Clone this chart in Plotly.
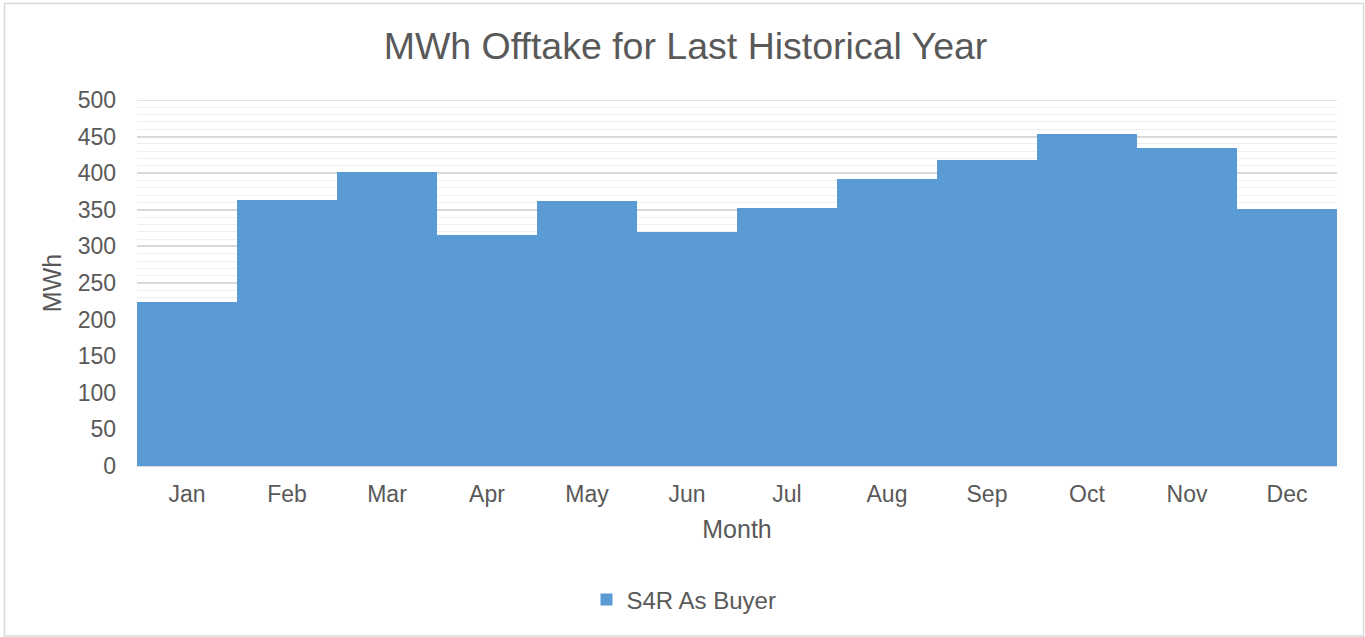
import plotly.graph_objects as go

months = ["Jan", "Feb", "Mar", "Apr", "May", "Jun", "Jul", "Aug", "Sep", "Oct", "Nov", "Dec"]
offtake_mwh = [224, 363, 401, 315, 362, 319, 352, 392, 418, 454, 434, 351]
series_name = "S4R As Buyer"
y_ticks = [0, 50, 100, 150, 200, 250, 300, 350, 400, 450, 500]
y_max = 500

FONT = "Liberation Sans, Arial, sans-serif"
TXT = "#595959"

fig = go.Figure()
fig.add_trace(go.Bar(
    x=months, y=offtake_mwh, name=series_name,
    marker=dict(color="#5B9BD5", line=dict(width=0)),
    showlegend=True,
))

W, H = 1365, 637
L, R, T, B = 137, 28, 100, 171
pw, ph = W - L - R, H - T - B

def px_x(x):
    return (x - L) / pw

def px_y(y):
    return (H - B - y) / ph

fig.update_layout(
    width=W, height=H,
    margin=dict(l=L, r=R, t=T, b=B),
    paper_bgcolor="white", plot_bgcolor="white",
    font=dict(family=FONT, color=TXT, size=23),
    bargap=0,
    title=dict(text="MWh Offtake for Last Historical Year",
               font=dict(size=37.5, color=TXT, family=FONT),
               x=px_x(685.5), xanchor="center", xref="paper",
               y=1 - 46 / H, yanchor="middle", yref="container"),
    xaxis=dict(
        range=[-0.5, 11.5], showgrid=False,
        showline=True, linecolor="#D9D9D9", linewidth=1,
        ticks="", tickfont=dict(size=23, color=TXT),
        ticklabelstandoff=7,
        title=dict(text="Month", font=dict(size=25, color=TXT), standoff=14),
    ),
    yaxis=dict(
        range=[0, y_max], tickvals=y_ticks, ticktext=[str(v) for v in y_ticks],
        showgrid=True, gridcolor="#D9D9D9", gridwidth=1.5,
        zeroline=False, showline=False, ticks="",
        tickfont=dict(size=23, color=TXT),
        ticklabelstandoff=20,
        minor=dict(dtick=10, showgrid=True, gridcolor="#EFEFEF", gridwidth=1.2),
        title=dict(text="MWh", font=dict(size=25, color=TXT), standoff=8),
    ),
    legend=dict(orientation="h", x=px_x(684), xanchor="center",
                y=px_y(600), yanchor="middle",
                font=dict(size=24, color=TXT), bgcolor="rgba(0,0,0,0)"),
    shapes=[
        dict(type="rect", xref="paper", yref="paper",
             x0=px_x(4.5), x1=px_x(1363.5), y0=px_y(636), y1=px_y(3.5),
             line=dict(color="#D9D9D9", width=1.5), fillcolor="rgba(0,0,0,0)",
             layer="below"),
        dict(type="line", xref="paper", yref="y", x0=0, x1=1, y0=y_max, y1=y_max,
             line=dict(color="#D9D9D9", width=1.5), layer="below"),
    ],
)

fig.write_html("out.html", config={"displayModeBar": False},
               post_script="document.body.style.margin='0';document.body.style.overflow='hidden';")
